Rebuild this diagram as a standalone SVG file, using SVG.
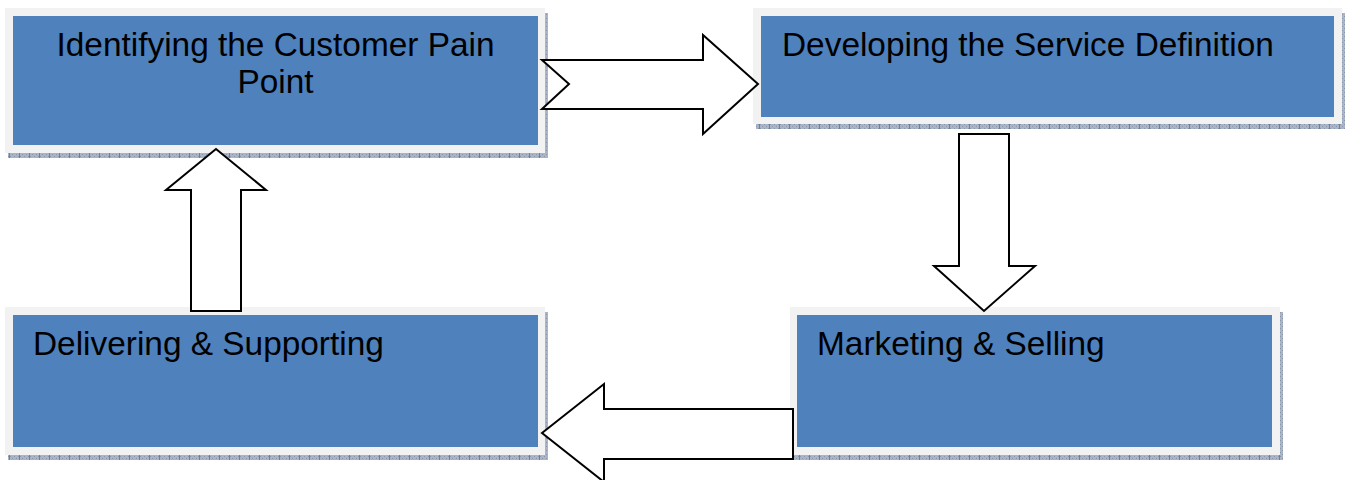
<svg xmlns="http://www.w3.org/2000/svg" width="1348" height="480" viewBox="0 0 1348 480">
<defs>
<pattern id="hatch" width="10" height="4" patternUnits="userSpaceOnUse">
<rect width="10" height="4" fill="#aab4c4"/>
<rect x="0" y="0" width="1" height="1" fill="#8796ad"/>
<rect x="2" y="2" width="1" height="1" fill="#8796ad"/>
<rect x="4" y="0" width="1" height="1" fill="#8796ad"/>
<rect x="6" y="2" width="1" height="1" fill="#8796ad"/>
<rect x="8" y="0" width="1" height="1" fill="#8796ad"/>
<rect x="9" y="0" width="1" height="4" fill="#6f7f99"/>
</pattern>
</defs>
<style>
.shadow{fill:url(#hatch)}
.frame{fill:#f2f2f2}
.box{fill:#4f81bd}
.lbl{font-family:"Liberation Sans",Arial,sans-serif;font-size:33.4px;fill:#000}
.arrow{fill:#fff;stroke:#000;stroke-width:2;stroke-linejoin:miter}
</style>
<rect width="1348" height="480" fill="#fff"/>
<g id="node-identify">
<rect class="shadow" x="8" y="13" width="540" height="145"/>
<rect class="frame" x="5" y="8" width="540" height="145"/>
<rect class="box" x="13" y="16" width="525" height="129"/>
<text class="lbl" x="275.5" y="56" text-anchor="middle">Identifying the Customer Pain</text>
<text class="lbl" x="275.5" y="93" text-anchor="middle">Point</text>
</g>
<g id="node-develop">
<rect class="shadow" x="756" y="13" width="589" height="116"/>
<rect class="frame" x="753" y="8" width="589" height="116"/>
<rect class="box" x="761" y="16" width="573" height="101"/>
<text class="lbl" x="782" y="56">Developing the Service Definition</text>
</g>
<g id="node-market">
<rect class="shadow" x="793" y="312" width="490" height="148"/>
<rect class="frame" x="790" y="307" width="490" height="148"/>
<rect class="box" x="797" y="315" width="475" height="132"/>
<text class="lbl" x="817" y="355">Marketing &amp; Selling</text>
</g>
<g id="node-deliver">
<rect class="shadow" x="8" y="312" width="540" height="148"/>
<rect class="frame" x="5" y="307" width="540" height="148"/>
<rect class="box" x="13" y="315" width="525" height="132"/>
<text class="lbl" x="33" y="355">Delivering &amp; Supporting</text>
</g>
<g id="connectors">
<polygon class="arrow" points="542,60 703,60 703,35 758,84 703,134 703,109 542,109 569,84"/>
<polygon class="arrow" points="959,134 1009,134 1009,266 1035,266 984,311 934,266 959,266"/>
<polygon class="arrow" points="542,433 604,384 604,409 793,409 793,459 604,459 604,482"/>
<polygon class="arrow" points="216,149 266,190 241,190 241,311 191,311 191,190 166,190"/>
</g>
</svg>
